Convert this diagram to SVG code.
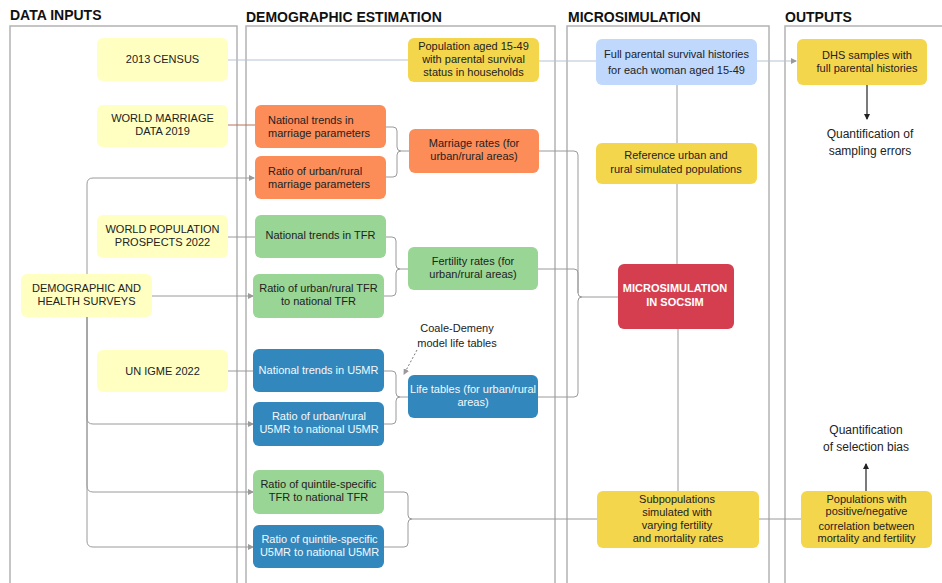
<svg xmlns="http://www.w3.org/2000/svg" width="942" height="583" viewBox="0 0 942 583">
<style>
text{font-family:"Liberation Sans",Arial,sans-serif;font-size:11px;fill:#222}
.title{font-size:14px;font-weight:bold;fill:#111}
.panel{fill:none;stroke:#b3b3b3;stroke-width:1.5}
.c{text-anchor:middle}
.w{fill:#f4f8fc}
.wb{fill:#fff;font-weight:bold}
.lab{font-size:12px}
.in{fill:#ffffc2}
.or{fill:#fc8d59}
.gr{fill:#99d594}
.bl{fill:#3288bd}
.ye{fill:#f4d64c}
.lb{fill:#bfd8fc}
.rd{fill:#d53e4f}
.con path{fill:none;stroke:#9a9a9a;stroke-width:1}
.con path.pb{stroke:#b5c3d3}
.con path.br{stroke:#b87456}
.con path.dk{stroke:#333;stroke-width:1.3}
.con path.dot{stroke:#777;stroke-dasharray:2,2}
</style>
<defs>
<marker id="ag" markerWidth="6" markerHeight="6" refX="5" refY="3" orient="auto" markerUnits="userSpaceOnUse"><path d="M0,0 L6,3 L0,6 z" fill="#9a9a9a"/></marker>
<marker id="ad" markerWidth="6" markerHeight="6" refX="5" refY="3" orient="auto" markerUnits="userSpaceOnUse"><path d="M0,0 L6,3 L0,6 z" fill="#222"/></marker>
</defs>
<rect width="942" height="583" fill="#fff"/>
<g id="panels">
<rect class="panel" x="10" y="26" width="227" height="600"/>
<rect class="panel" x="246" y="26" width="309" height="600"/>
<rect class="panel" x="567" y="26" width="202" height="600"/>
<rect class="panel" x="785" y="26" width="200" height="600"/>
<text class="title" x="10" y="20">DATA INPUTS</text>
<text class="title" x="246" y="22">DEMOGRAPHIC ESTIMATION</text>
<text class="title" x="568" y="22">MICROSIMULATION</text>
<text class="title" x="785" y="22">OUTPUTS</text>
</g>
<g class="con" id="connectors">
<path class="pb" d="M228,60 H408"/>
<path class="pb" d="M539,61 H596"/>
<path class="pb" d="M757,61 H796" marker-end="url(#ag)"/>
<path class="br" d="M228,125 H255"/>
<path d="M87,300 V184 Q87,178 93,178 H254" marker-end="url(#ag)"/>
<path d="M152,296 H253" marker-end="url(#ag)"/>
<path d="M87,300 V418 Q87,424 93,424 H253" marker-end="url(#ag)"/>
<path d="M87,300 V486 Q87,492 93,492 H253" marker-end="url(#ag)"/>
<path d="M87,300 V541 Q87,547 93,547 H253" marker-end="url(#ag)"/>
<path d="M228,237 H255"/>
<path d="M228,371 H253"/>
<path d="M386,127 H393 Q397,127 397,131 V147 Q397,151 401,151 H409"/>
<path d="M386,177 H393 Q397,177 397,173 V155 Q397,151 401,151"/>
<path d="M386,237 H392 Q396,237 396,241 V265 Q396,269 400,269 H408"/>
<path d="M384,296 H392 Q396,296 396,292 V273 Q396,269 400,269"/>
<path d="M384,371 H392 Q396,371 396,375 V393 Q396,397 400,397 H408"/>
<path d="M384,424 H392 Q396,424 396,420 V401 Q396,397 400,397"/>
<path d="M384,492 H404 Q408,492 408,496 V515 Q408,519 412,519 H597"/>
<path d="M384,547 H404 Q408,547 408,543 V523 Q408,519 412,519"/>
<path d="M539,151 H574 Q578,151 578,155 V293 Q578,297 582,297 H618"/>
<path d="M538,269 H574 Q578,269 578,273 V293"/>
<path d="M538,397 H574 Q578,397 578,393 V301 Q578,297 582,297"/>
<path d="M677,85 V143"/>
<path d="M677,184 V264"/>
<path d="M678,329 V491"/>
<path d="M759,519 H801"/>
<path class="dk" d="M867,85 V119" marker-end="url(#ad)"/>
<path class="dk" d="M866,491 V464" marker-end="url(#ad)"/>
<path class="dot" d="M417,350 L404,374" marker-end="url(#ag)"/>
</g>
<g id="census"><rect class="in" x="97" y="38" width="131" height="43" rx="6"/><text class="c" x="162.5" y="63">2013 CENSUS</text></g>
<g id="wmd"><rect class="in" x="97" y="105" width="131" height="42" rx="6"/><text class="c" x="162.5" y="122">WORLD MARRIAGE</text><text class="c" x="162.5" y="135">DATA 2019</text></g>
<g id="wpp"><rect class="in" x="97" y="215" width="131" height="43" rx="6"/><text class="c" x="162.5" y="233">WORLD POPULATION</text><text class="c" x="162.5" y="246">PROSPECTS 2022</text></g>
<g id="dhs"><rect class="in" x="21" y="274" width="131" height="43" rx="6"/><text class="c" x="86.5" y="292">DEMOGRAPHIC AND</text><text class="c" x="86.5" y="305">HEALTH SURVEYS</text></g>
<g id="igme"><rect class="in" x="97" y="350" width="131" height="42" rx="6"/><text class="c" x="162.5" y="375">UN IGME 2022</text></g>
<g id="pop"><rect class="ye" x="408" y="38" width="131" height="44" rx="6"/><text class="c" x="473.5" y="50">Population aged 15-49</text><text class="c" x="473.5" y="63">with parental survival</text><text class="c" x="473.5" y="76">status in households</text></g>
<g id="ntm"><rect class="or" x="255" y="105" width="131" height="43" rx="6"/><text x="268" y="124">National trends in</text><text x="268" y="137">marriage parameters</text></g>
<g id="rum"><rect class="or" x="255" y="156" width="131" height="43" rx="6"/><text x="268" y="175">Ratio of urban/rural</text><text x="268" y="188">marriage parameters</text></g>
<g id="mr"><rect class="or" x="409" y="129" width="130" height="44" rx="6"/><text class="c" x="474" y="147">Marriage rates (for</text><text class="c" x="474" y="160">urban/rural areas)</text></g>
<g id="ntt"><rect class="gr" x="255" y="215" width="131" height="43" rx="6"/><text class="c" x="320.5" y="239">National trends in TFR</text></g>
<g id="rut"><rect class="gr" x="253" y="274" width="131" height="44" rx="6"/><text class="c" x="318.5" y="292">Ratio of urban/rural TFR</text><text class="c" x="318.5" y="305">to national TFR</text></g>
<g id="fr"><rect class="gr" x="408" y="247" width="130" height="43" rx="6"/><text class="c" x="473" y="265">Fertility rates (for</text><text class="c" x="473" y="278">urban/rural areas)</text></g>
<g id="coale"><text class="c" x="457" y="332">Coale-Demeny</text><text class="c" x="457" y="347">model life tables</text></g>
<g id="ntu"><rect class="bl" x="253" y="349" width="131" height="43" rx="6"/><text class="c w" x="318.5" y="374">National trends in U5MR</text></g>
<g id="lt"><rect class="bl" x="408" y="375" width="130" height="43" rx="6"/><text class="c w" x="473" y="393">Life tables (for urban/rural</text><text class="c w" x="473" y="406">areas)</text></g>
<g id="ruu"><rect class="bl" x="253" y="402" width="131" height="44" rx="6"/><text class="c w" x="319" y="420">Ratio of urban/rural</text><text class="c w" x="319" y="433">U5MR to national U5MR</text></g>
<g id="qt"><rect class="gr" x="253" y="470" width="131" height="44" rx="6"/><text class="c" x="318.5" y="488">Ratio of quintile-specific</text><text class="c" x="318.5" y="501">TFR to national TFR</text></g>
<g id="qu"><rect class="bl" x="253" y="525" width="131" height="43" rx="6"/><text class="c w" x="319.5" y="543">Ratio of quintile-specific</text><text class="c w" x="319.5" y="556">U5MR to national U5MR</text></g>
<g id="full"><rect class="lb" x="596" y="39" width="161" height="46" rx="6"/><text class="c" x="676.5" y="58">Full parental survival histories</text><text class="c" x="676.5" y="74">for each woman aged 15-49</text></g>
<g id="ref"><rect class="ye" x="596" y="143" width="161" height="41" rx="6"/><text class="c" x="676" y="159">Reference urban and</text><text class="c" x="676" y="173">rural simulated populations</text></g>
<g id="socsim"><rect class="rd" x="618" y="264" width="116" height="65" rx="6"/><text class="c wb" x="675" y="292">MICROSIMULATION</text><text class="c wb" x="675" y="306">IN SOCSIM</text></g>
<g id="sub"><rect class="ye" x="597" y="491" width="162" height="57" rx="6"/><text class="c" x="677" y="503">Subpopulations</text><text class="c" x="677" y="516">simulated with</text><text class="c" x="677" y="529">varying fertility</text><text class="c" x="678" y="542">and mortality rates</text></g>
<g id="dhsout"><rect class="ye" x="797" y="39" width="130" height="46" rx="6"/><text class="c" x="867" y="59">DHS samples with</text><text class="c" x="867" y="72">full parental histories</text></g>
<g id="qse"><text class="c lab" x="870" y="138">Quantification of</text><text class="c lab" x="870" y="155">sampling errors</text></g>
<g id="posneg"><rect class="ye" x="801" y="491" width="131" height="57" rx="6"/><text class="c" x="866.5" y="503">Populations with</text><text class="c" x="866.5" y="515">positive/negative</text><text class="c" x="866.5" y="530">correlation between</text><text class="c" x="866.5" y="542">mortality and fertility</text></g>
<g id="qsb"><text class="c lab" x="866" y="434">Quantification</text><text class="c lab" x="866" y="451">of selection bias</text></g>
</svg>
